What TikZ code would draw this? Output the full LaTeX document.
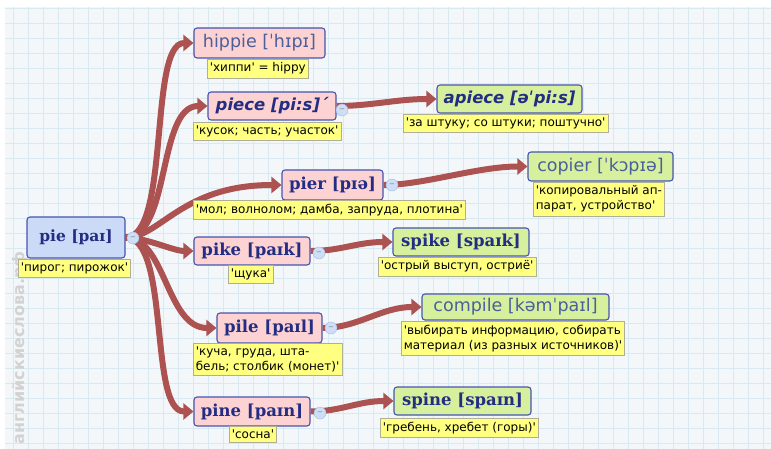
\documentclass[tikz,border=0pt]{standalone}
\usepackage{fontspec}
\setmainfont{DejaVu Sans}
\newfontfamily\wordserif{DejaVu Serif}
\newfontfamily\wordsans{DejaVu Sans}
\newfontfamily\glossfont{DejaVu Sans}
\usetikzlibrary{arrows.meta}
\definecolor{gridbg}{RGB}{244,247,250}
\definecolor{gridline}{RGB}{216,233,242}
\definecolor{boxline}{RGB}{70,85,175}
\definecolor{wordtext}{RGB}{35,45,130}
\definecolor{softtext}{RGB}{75,95,155}
\definecolor{rootfill}{RGB}{203,218,247}
\definecolor{childfill}{RGB}{253,210,210}
\definecolor{leaffill}{RGB}{214,240,158}
\definecolor{glossfill}{RGB}{255,255,128}
\definecolor{glossline}{RGB}{175,175,150}
\definecolor{linkcol}{RGB}{172,82,80}
\definecolor{foldfill}{RGB}{205,222,246}
\definecolor{foldline}{RGB}{160,185,225}
\definecolor{stamp}{RGB}{210,210,210}

\begin{document}
\begin{tikzpicture}[x=1pt,y=-1pt,
  word/.style={draw=boxline,rounded corners=3pt,line width=1.1pt,inner sep=0pt,text=wordtext},
  root/.style={word,fill=rootfill,font=\wordserif\bfseries\fontsize{15.5}{18}\selectfont},
  child/.style={word,fill=childfill},
  leaf/.style={word,fill=leaffill},
  heavy/.style={font=\wordserif\bfseries\fontsize{16.5}{18}\selectfont},
  light/.style={font=\wordsans\fontsize{17.5}{19}\selectfont,text=softtext},
  slant/.style={font=\wordsans\bfseries\itshape\fontsize{16.5}{18}\selectfont},
  gloss/.style={draw=glossline,fill=glossfill,line width=0.6pt,inner xsep=2.5pt,inner ysep=3.5pt,
    anchor=north west,align=left,font=\glossfont\fontsize{12}{15}\selectfont},
  fold/.style={circle,draw=foldline,fill=foldfill,minimum size=12pt,inner sep=0pt,
    font=\fontsize{7}{7}\selectfont,text=gray},
  link/.style={draw=linkcol,line width=6pt,-{Triangle[length=10pt,width=16pt]}}]
\path[use as bounding box] (0,0) rectangle (771,449);
\fill[white] (0,0) rectangle (771,449);
\fill[gridbg] (5,7) rectangle (771,449);
\foreach \x in {13,28,...,771} \draw[gridline,line width=0.6pt] (\x,7)--(\x,449);
\foreach \y in {8,23,...,449} \draw[gridline,line width=0.6pt] (5,\y)--(771,\y);
\node[rotate=90,text=stamp,font=\glossfont\bfseries\fontsize{16}{16}\selectfont]
  (mark) at (20,348) {английскиеслова.рф};

\node[root,minimum width=98,minimum height=41] (pie) at (76,237.5) {pie [paɪ]};
\node[child,light,minimum width=131,minimum height=30] (hippie) at (259.5,43) {hippie [ˈhɪpɪ]};
\node[child,slant,minimum width=128,minimum height=28] (piece) at (272,106) {piece [pi:s]´};
\node[leaf,slant,minimum width=145,minimum height=28] (apiece) at (509.5,99) {apiece [əˈpi:s]};
\node[child,heavy,minimum width=101,minimum height=30] (pier) at (332.5,185) {pier [pɪə]};
\node[leaf,light,minimum width=145,minimum height=29] (copier) at (600.5,166.5) {copier [ˈkɔpɪə]};
\node[child,heavy,minimum width=116,minimum height=28] (pike) at (252,251) {pike [paɪk]};
\node[leaf,heavy,minimum width=136,minimum height=28] (spike) at (461,242) {spike [spaɪk]};
\node[child,heavy,minimum width=105,minimum height=30] (pile) at (269.5,328) {pile [paɪl]};
\node[leaf,light,minimum width=187,minimum height=26] (compile) at (515.5,307) {compile [kəmˈpaɪl]};
\node[child,heavy,minimum width=116,minimum height=29] (pine) at (252,411.5) {pine [paɪn]};
\node[leaf,heavy,minimum width=137,minimum height=28] (spine) at (462.5,401) {spine [spaɪn]};

\draw[link] (pie.east) .. controls +(45,0) and +(-45,0) .. (hippie.west);
\draw[link] (pie.east) .. controls +(45,0) and +(-50,0) .. (piece.west);
\draw[link] (pie.east) .. controls +(35,0) and +(-100,0) .. (pier.west);
\draw[link] (pie.east) .. controls +(20,0) and +(-20,0) .. (pike.west);
\draw[link] (pie.east) .. controls +(40,0) and +(-50,0) .. (pile.west);
\draw[link] (pie.east) .. controls +(45,0) and +(-45,0) .. (pine.west);
\draw[link] (piece.east) .. controls +(35,0) and +(-40,0) .. (apiece.west);
\draw[link] (pier.east) .. controls +(40,0) and +(-50,0) .. (copier.west);
\draw[link] (pike.east) .. controls +(30,0) and +(-35,0) .. (spike.west);
\draw[link] (pile.east) .. controls +(35,0) and +(-40,0) .. (compile.west);
\draw[link] (pine.east) .. controls +(30,0) and +(-35,0) .. (spine.west);

\node[fold] (pie-f) at (133,238) {−};
\node[fold] (piece-f) at (342,110) {−};
\node[fold] (pier-f) at (392,185) {−};
\node[fold] (pike-f) at (319,253) {−};
\node[fold] (pile-f) at (331,328) {−};
\node[fold] (pine-f) at (320,413) {−};

\node[gloss] (pie-g) at (18,259) {'пирог; пирожок'};
\node[gloss] (hippie-g) at (207,59) {'хиппи' = hippy};
\node[gloss] (piece-g) at (193,122) {'кусок; часть; участок'};
\node[gloss] (apiece-g) at (403,114) {'за штуку; со штуки; поштучно'};
\node[gloss] (pier-g) at (193,200) {'мол; волнолом; дамба, запруда, плотина'};
\node[gloss] (copier-g) at (533,182) {'копировальный ап-\\парат, устройство'};
\node[gloss] (pike-g) at (228,265) {'щука'};
\node[gloss] (spike-g) at (378,257) {'острый выступ, остриё'};
\node[gloss] (pile-g) at (193,343) {'куча, груда, шта-\\бель; столбик (монет)'};
\node[gloss] (compile-g) at (401,321) {'выбирать информацию, собирать\\материал (из разных источников)'};
\node[gloss] (pine-g) at (229,426) {'сосна'};
\node[gloss] (spine-g) at (380,418) {'гребень, хребет (горы)'};
\end{tikzpicture}
\end{document}
